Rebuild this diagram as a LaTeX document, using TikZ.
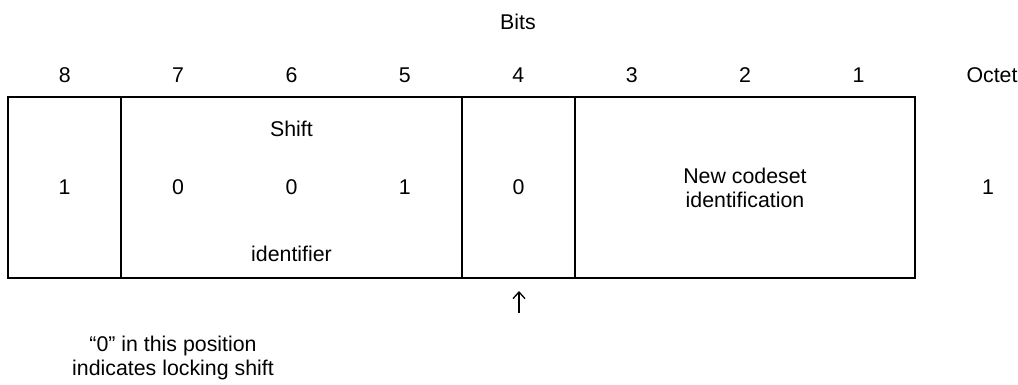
\documentclass[tikz,border=0pt]{standalone}
\usepackage{fontspec}
\setmainfont{Liberation Sans}
\usetikzlibrary{positioning, arrows.meta}
\tikzset {
  cell/.style = {draw, line width=1.5pt, rectangle, minimum height=135.75pt, inner sep=0pt, align=center},
  lbl/.style = {inner sep=0pt, align=center},
  pointer/.style = {line width=1pt, -{Straight Barb[length=5pt, width=9pt]}},
}
\begin{document}
\begin{tikzpicture}[x=0.75pt, y=-0.75pt, font=\fontsize{16}{18}\selectfont]
    \useasboundingbox (0,0) rectangle (1018,385);
    \node[lbl] (bits) at (518,22) {Bits};
    % bit numbers
    \foreach \b [count=\i from 0] in {8,7,6,5,4,3,2,1}
      \node[lbl] (b\b) at (64.7+113.4*\i,75) {\b};
    \node[lbl] (octet) at (992,75) {Octet};

    \node[cell, minimum width=84.75pt] (c8) at (64.5,187.5) {1};
    \node[cell, minimum width=255.75pt] (shift) at (291.5,187.5) {};
    \node[cell, minimum width=84.75pt] (c4) at (518.5,187.5) {0};
    \node[cell, minimum width=255pt] (codeset) at (745,187.5) {New codeset\\identification};

    \node[lbl] (shtop) at (291.5,129) {Shift};
    \node[lbl] (s7) at (b7 |- c8) {0};
    \node[lbl] (s6) at (b6 |- c8) {0};
    \node[lbl] (s5) at (b5 |- c8) {1};
    \node[lbl] (shbot) at (291.5,254) {identifier};
    \node[lbl] (oct1) at (988,187.5) {1};

    \coordinate (atail) at (519,313);
    \coordinate (ahead) at (519,291);
    \draw[pointer] (atail) -- (ahead);
    \node[lbl] (note) at (173,358) {“0” in this position\\indicates locking shift};
\end{tikzpicture}
\end{document}
